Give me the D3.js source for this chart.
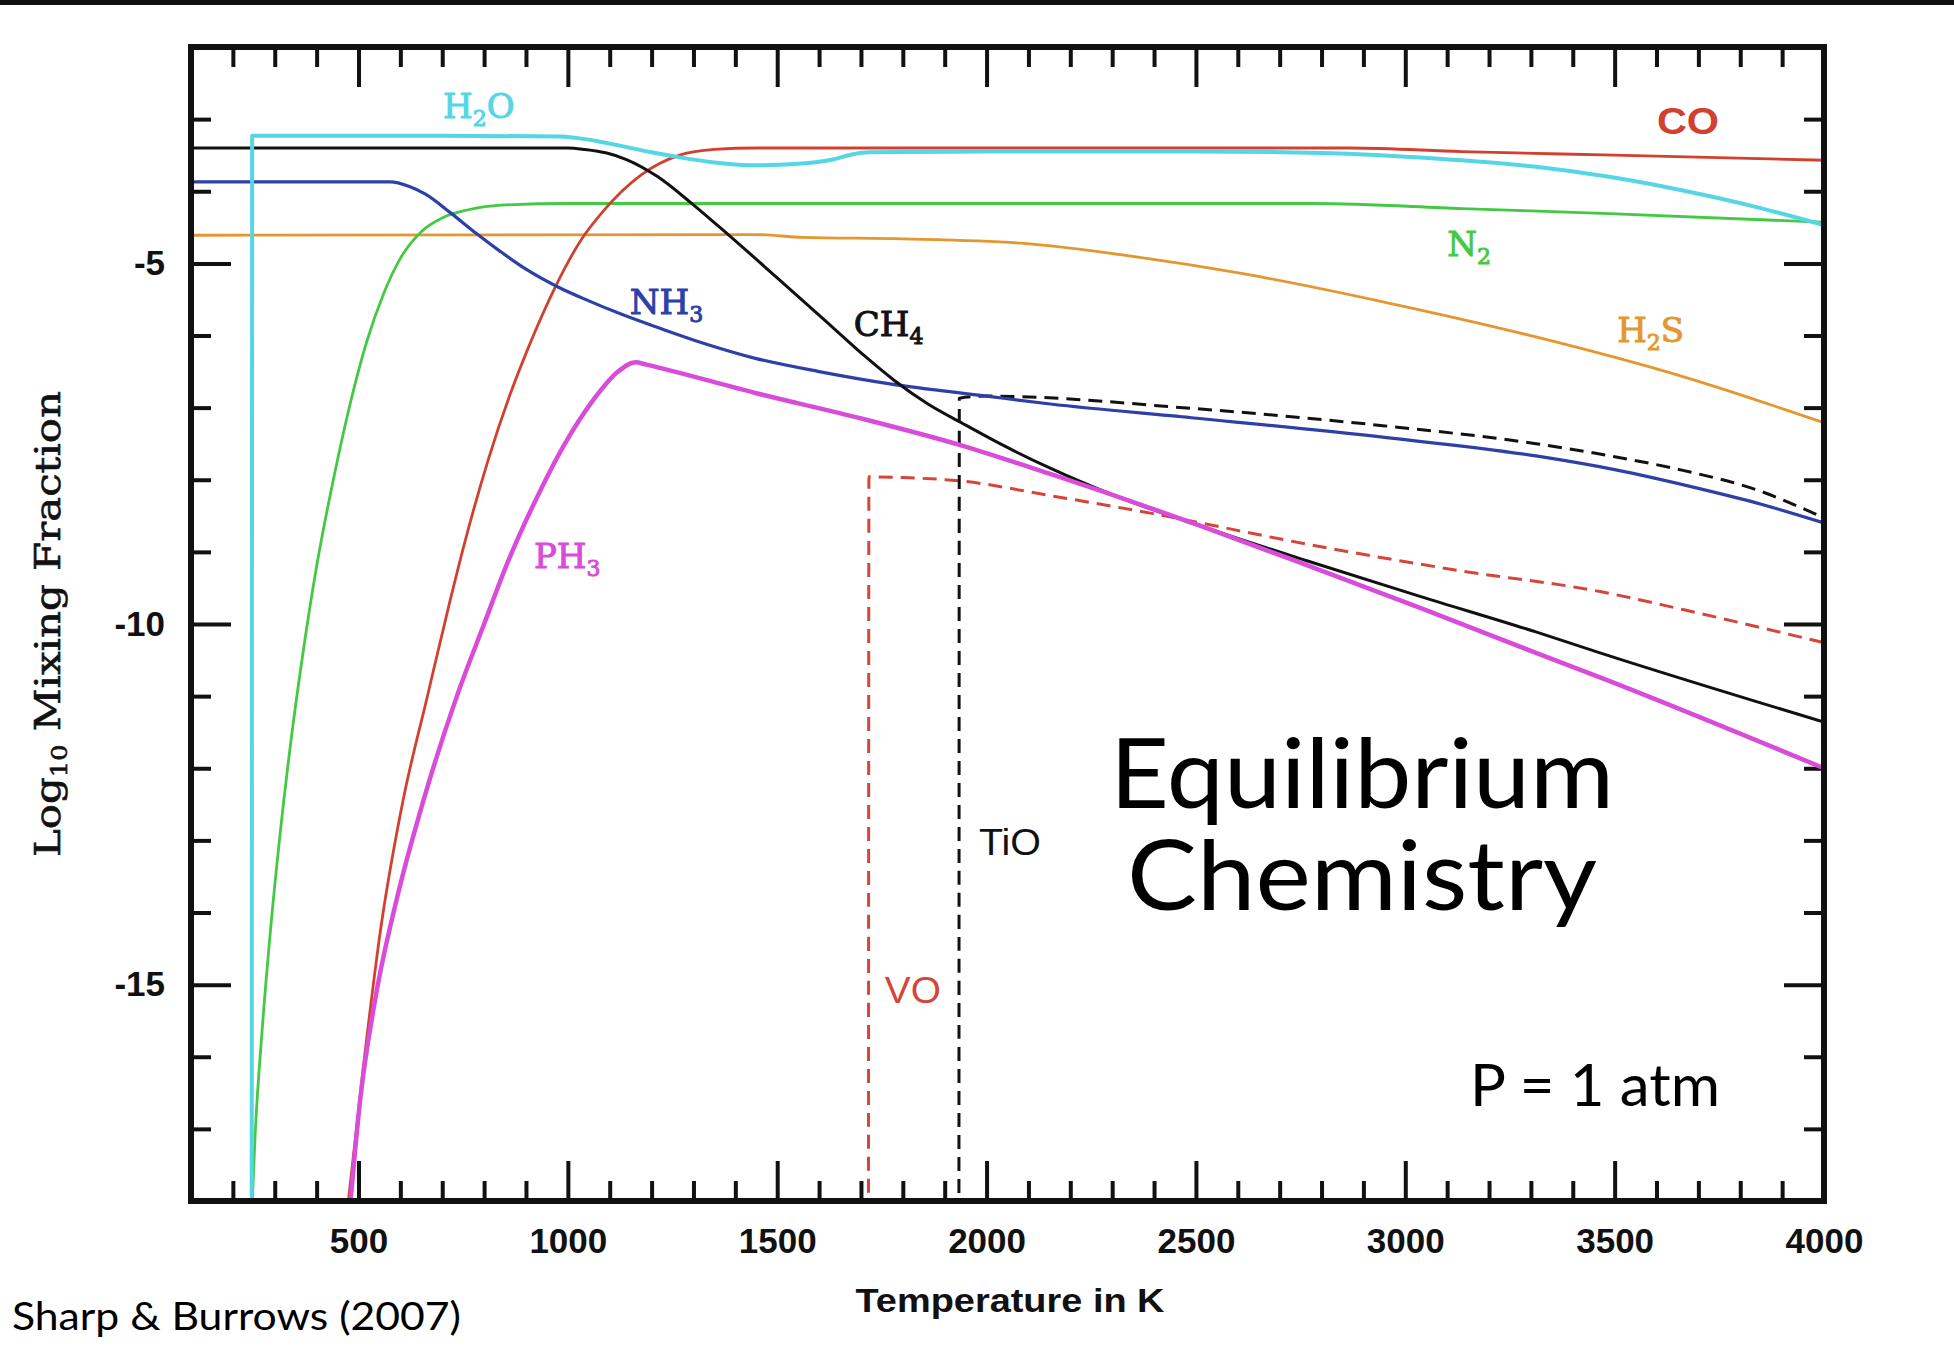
<!DOCTYPE html>
<html>
<head>
<meta charset="utf-8">
<script src="https://cdn.jsdelivr.net/npm/d3@7"></script>
<style>
body { margin: 0; background: #fff; }
svg { display: block; }
</style>
</head>
<body>
<div id="chart"></div>
<script>
var W = 1954, H = 1358;
var box = {left: 191, top: 47, right: 1824, bottom: 1201};

// axis ticks
var xMajor = [500, 1000, 1500, 2000, 2500, 3000, 3500, 4000];
var yMajor = [-15, -10, -5];
var xMinor = d3.range(200, 4000, 100).filter(d => d % 500 !== 0);
var yMinor = d3.range(-17, -2, 1).filter(d => d % 5 !== 0);

// [temperature K, log10 mixing fraction]
var h2o = [[245,-18.5],[246,-3.23],[700,-3.23],[980,-3.24],[1020,-3.26],[1100,-3.34],[1200,-3.46],[1267,-3.53],[1350,-3.60],[1450,-3.64],[1550,-3.62],[1633,-3.56],[1678,-3.49],[1720,-3.46],[2000,-3.45],[2500,-3.45],[2800,-3.47],[3000,-3.52],[3135,-3.57],[3312,-3.66],[3487,-3.80],[3663,-3.99],[3839,-4.22],[4000,-4.47]];
var ch4 = [[100,-3.40],[1000,-3.40],[1040,-3.42],[1093,-3.47],[1140,-3.56],[1215,-3.80],[1292,-4.15],[1359,-4.48],[1496,-5.18],[1633,-5.89],[1706,-6.27],[1779,-6.62],[1860,-6.95],[1943,-7.22],[2032,-7.50],[2152,-7.84],[2306,-8.22],[2516,-8.65],[2763,-9.12],[3037,-9.62],[3312,-10.11],[3465,-10.40],[4000,-11.36]];
var nh3 = [[100,-3.87],[576,-3.87],[620,-3.93],[660,-4.04],[720,-4.30],[780,-4.58],[840,-4.84],[900,-5.08],[974,-5.32],[1050,-5.52],[1130,-5.71],[1220,-5.90],[1320,-6.10],[1450,-6.32],[1600,-6.50],[1769,-6.67],[2000,-6.84],[2152,-6.95],[2489,-7.14],[2946,-7.41],[3312,-7.67],[3500,-7.86],[3700,-8.12],[3850,-8.34],[4000,-8.60]];
var co = [[472,-18.2],[512,-16.12],[552,-14.27],[607,-12.43],[663,-11.04],[719,-9.67],[751,-8.93],[810,-7.72],[860,-6.85],[902,-6.22],[974,-5.28],[1030,-4.69],[1084,-4.28],[1176,-3.77],[1267,-3.50],[1350,-3.42],[1450,-3.40],[2870,-3.40],[3135,-3.45],[3500,-3.50],[4000,-3.57]];
var ph3 = [[478,-18.2],[504,-16.6],[540,-15.2],[592,-13.8],[655,-12.45],[735,-11.0],[800,-10.0],[856,-9.15],[930,-8.2],[993,-7.5],[1060,-6.9],[1120,-6.5],[1162,-6.37],[1185,-6.40],[1450,-6.80],[1700,-7.15],[1943,-7.53],[2152,-7.92],[2516,-8.65],[2763,-9.18],[3037,-9.78],[3312,-10.40],[3465,-10.74],[4000,-12.00]];
var n2 = [[245,-18.2],[253,-17.1],[269,-15.7],[289,-14.3],[313,-12.9],[337,-11.7],[365,-10.5],[400,-9.2],[440,-8.0],[480,-6.95],[520,-6.08],[560,-5.42],[600,-4.93],[650,-4.56],[700,-4.37],[760,-4.26],[850,-4.19],[1000,-4.17],[2784,-4.17],[3135,-4.24],[3487,-4.31],[4000,-4.43]];
var h2s = [[100,-4.61],[1450,-4.60],[1560,-4.64],[1800,-4.66],[2082,-4.72],[2345,-4.90],[2609,-5.14],[2960,-5.55],[3312,-6.02],[3663,-6.57],[4000,-7.21]];
var tio = [[1934,-18.5],[1935,-6.87],[2000,-6.84],[2489,-7.01],[2946,-7.25],[3312,-7.50],[3500,-7.68],[3663,-7.87],[3839,-8.14],[4000,-8.53]];
var vo = [[1718,-18.5],[1719,-7.96],[1800,-7.97],[1943,-8.02],[2152,-8.22],[2398,-8.47],[2763,-8.89],[3129,-9.26],[3465,-9.55],[3663,-9.80],[4000,-10.26]];

var series = [
	{data: h2s, color: "#e5962f", width: 2.8, dash: null},
	{data: n2, color: "#44c944", width: 2.8, dash: null},
	{data: co, color: "#d2402f", width: 2.8, dash: null},
	{data: vo, color: "#d5453a", width: 3, dash: "14,8"},
	{data: tio, color: "#111", width: 3, dash: "14,8"},
	{data: nh3, color: "#2d40a8", width: 3.2, dash: null},
	{data: ch4, color: "#111", width: 3, dash: null},
	{data: ph3, color: "#d94cd9", width: 4.5, dash: null},
	{data: h2o, color: "#55d6e4", width: 4, dash: null}
];

// formula labels, anchored in data units
var formulaLabels = [
	{parts: [["H"], ["2", 1], ["O"]], T: 702, v: -2.98, color: "#55d6e4"},
	{parts: [["NH"], ["3", 1]], T: 1148, v: -5.70, color: "#2d40a8"},
	{parts: [["CH"], ["4", 1]], T: 1683, v: -6.01, color: "#111"},
	{parts: [["PH"], ["3", 1]], T: 919, v: -9.22, color: "#d94cd9"},
	{parts: [["N"], ["2", 1]], T: 3100, v: -4.90, color: "#44c944"},
	{parts: [["H"], ["2", 1], ["S"]], T: 3506, v: -6.09, color: "#e5962f"}
];
var plainLabels = [
	{text: "CO", T: 3601, v: -3.21, color: "#d2402f", len: 62, weight: "bold"},
	{text: "TiO", T: 1982, v: -13.20, color: "#111", len: 62, weight: "normal"},
	{text: "VO", T: 1757, v: -15.25, color: "#d5453a", len: 56, weight: "normal"}
];

var x = d3.scaleLinear().domain([100, 4000]).range([box.left, box.right]);
var y = d3.scaleLinear().domain([-18, -2]).range([box.bottom, box.top]);

var svg = d3.select("#chart").append("svg")
		.attr("width", W)
		.attr("height", H);

svg.append("rect").attr("width", W).attr("height", H).attr("fill", "#fff");
svg.append("rect").attr("width", W).attr("height", 5).attr("fill", "#111");

svg.append("clipPath").attr("id", "plotclip")
	.append("rect")
	.attr("x", box.left).attr("y", box.top)
	.attr("width", box.right - box.left)
	.attr("height", box.bottom - box.top);

function drawAxis(axis, tx, ty) {
	var g = svg.append("g")
		.attr("transform", "translate(" + tx + "," + ty + ")")
		.call(axis);
	g.select(".domain").remove();
	g.selectAll(".tick line").attr("stroke", "#111").attr("stroke-width", 4);
	g.selectAll(".tick text")
		.attr("fill", "#111")
		.style("font-family", "'Liberation Sans', Arial, sans-serif")
		.style("font-weight", "bold")
		.style("font-size", "35px");
	return g;
}

function noLabel() { return ""; }

drawAxis(d3.axisBottom(x).tickValues(xMajor).tickSizeInner(-40).tickSizeOuter(0).tickPadding(27).tickFormat(d => String(d)), 0, box.bottom);
drawAxis(d3.axisBottom(x).tickValues(xMinor).tickSizeInner(-20).tickSizeOuter(0).tickFormat(noLabel), 0, box.bottom);
drawAxis(d3.axisTop(x).tickValues(xMajor).tickSizeInner(-40).tickSizeOuter(0).tickFormat(noLabel), 0, box.top);
drawAxis(d3.axisTop(x).tickValues(xMinor).tickSizeInner(-20).tickSizeOuter(0).tickFormat(noLabel), 0, box.top);
drawAxis(d3.axisLeft(y).tickValues(yMajor).tickSizeInner(-40).tickSizeOuter(0).tickPadding(26).tickFormat(d => String(d)), box.left, 0);
drawAxis(d3.axisLeft(y).tickValues(yMinor).tickSizeInner(-20).tickSizeOuter(0).tickFormat(noLabel), box.left, 0);
drawAxis(d3.axisRight(y).tickValues(yMajor).tickSizeInner(-40).tickSizeOuter(0).tickFormat(noLabel), box.right, 0);
drawAxis(d3.axisRight(y).tickValues(yMinor).tickSizeInner(-20).tickSizeOuter(0).tickFormat(noLabel), box.right, 0);

var line = d3.line()
	.x(d => x(d[0]))
	.y(d => y(d[1]))
	.curve(d3.curveMonotoneX);

svg.append("g").attr("clip-path", "url(#plotclip)")
	.selectAll("path")
	.data(series)
	.enter()
	.append("path")
	.attr("d", d => line(d.data))
	.attr("fill", "none")
	.attr("stroke", d => d.color)
	.attr("stroke-width", d => d.width)
	.attr("stroke-dasharray", d => d.dash)
	.attr("stroke-linejoin", "round");

// frame
svg.append("rect")
	.attr("x", box.left).attr("y", box.top)
	.attr("width", box.right - box.left)
	.attr("height", box.bottom - box.top)
	.attr("fill", "none")
	.attr("stroke", "#111")
	.attr("stroke-width", 6);

formulaLabels.forEach(function(l) {
	var t = svg.append("text")
		.attr("x", x(l.T))
		.attr("y", y(l.v))
		.attr("fill", l.color)
		.attr("stroke", l.color)
		.attr("stroke-width", 1)
		.style("font-family", "'DejaVu Serif', serif")
		.style("font-size", "34px");
	var down = false;
	l.parts.forEach(function(p) {
		var s = t.append("tspan").text(p[0]);
		if(p[1] && !down) {
			s.attr("dy", 8).style("font-size", "22px");
			down = true;
		} else if(!p[1] && down) {
			s.attr("dy", -8);
			down = false;
		}
	});
});

svg.selectAll(".plainlabel")
	.data(plainLabels)
	.enter()
	.append("text")
	.attr("class", "plainlabel")
	.attr("x", d => x(d.T))
	.attr("y", d => y(d.v))
	.attr("fill", d => d.color)
	.attr("textLength", d => d.len)
	.attr("lengthAdjust", "spacingAndGlyphs")
	.style("font-family", "'Liberation Sans', Arial, sans-serif")
	.style("font-weight", d => d.weight)
	.style("font-size", "36px")
	.text(d => d.text);

// axis titles
svg.append("text")
	.attr("x", 1010)
	.attr("y", 1312)
	.attr("text-anchor", "middle")
	.attr("textLength", 309)
	.attr("lengthAdjust", "spacingAndGlyphs")
	.attr("fill", "#111")
	.style("font-family", "'Liberation Sans', Arial, sans-serif")
	.style("font-weight", "bold")
	.style("font-size", "33px")
	.text("Temperature in K");

var yt = svg.append("text")
	.attr("transform", "translate(60,624) rotate(-90)")
	.attr("text-anchor", "middle")
	.attr("textLength", 466)
	.attr("lengthAdjust", "spacingAndGlyphs")
	.attr("fill", "#111")
	.attr("stroke", "#111")
	.attr("stroke-width", 0.6)
	.style("font-family", "'DejaVu Serif', serif")
	.style("font-size", "36px");
yt.append("tspan").text("Log");
yt.append("tspan").attr("dy", 7).style("font-size", "22px").text("10");
yt.append("tspan").attr("dy", -7).text(" Mixing Fraction");

// slide annotations
var title = svg.append("text")
	.attr("fill", "#000")
	.style("font-family", "Lato, 'Open Sans', sans-serif")
	.style("font-size", "97px");
title.append("tspan")
	.attr("x", 1110).attr("y", 808)
	.attr("textLength", 504)
	.attr("lengthAdjust", "spacingAndGlyphs")
	.text("Equilibrium");
title.append("tspan")
	.attr("x", 1127).attr("y", 910)
	.attr("textLength", 470)
	.attr("lengthAdjust", "spacingAndGlyphs")
	.text("Chemistry");

var notes = [
	{text: "P = 1 atm", x: 1470, y: 1106, size: 58, len: 250},
	{text: "Sharp & Burrows (2007)", x: 12, y: 1330, size: 38, len: 449}
];
svg.selectAll(".note")
	.data(notes)
	.enter()
	.append("text")
	.attr("class", "note")
	.attr("x", d => d.x)
	.attr("y", d => d.y)
	.attr("textLength", d => d.len)
	.attr("lengthAdjust", "spacingAndGlyphs")
	.attr("fill", "#000")
	.style("font-family", "Lato, 'Open Sans', sans-serif")
	.style("font-size", d => d.size + "px")
	.text(d => d.text);
</script>
</body>
</html>
